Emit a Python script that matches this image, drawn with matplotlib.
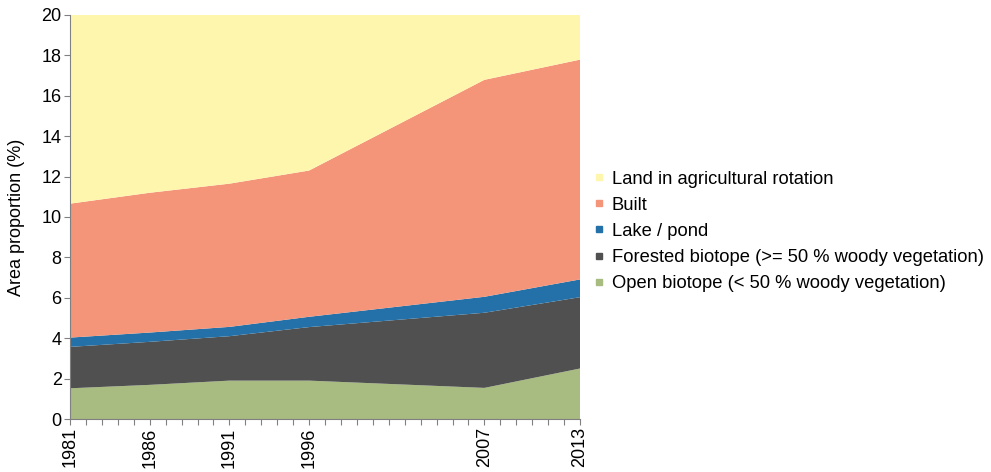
import matplotlib
matplotlib.use("Agg")
import matplotlib.pyplot as plt
from matplotlib.lines import Line2D

plt.rcParams['font.family'] = ['Liberation Sans', 'DejaVu Sans']

# land-use shares per survey year (% of area)
years = [1981, 1986, 1991, 1996, 2007, 2013]
open_biotope = [1.52, 1.69, 1.90, 1.90, 1.54, 2.50]
forested = [2.05, 2.13, 2.20, 2.65, 3.72, 3.53]
lake = [0.46, 0.46, 0.46, 0.51, 0.79, 0.88]
built = [6.63, 6.92, 7.09, 7.24, 10.74, 10.88]
agri = [9.34, 8.80, 8.35, 7.70, 3.21, 2.21]

labels = ["Open biotope (< 50 % woody vegetation)",
          "Forested biotope (>= 50 % woody vegetation)",
          "Lake / pond",
          "Built",
          "Land in agricultural rotation"]
colors = ["#A8BB81", "#505050", "#2371A8", "#F49479", "#FFF6AE"]

fig = plt.figure(figsize=(9.91, 4.72), dpi=100)
ax = fig.add_axes([70 / 991, 53 / 472, 510 / 991, 404 / 472])

ax.stackplot(years, open_biotope, forested, lake, built, agri,
             colors=colors, linewidth=0)

ax.set_xlim(1981, 2013)
ax.set_ylim(0, 20)
ax.set_yticks(range(0, 21, 2))
ax.set_xticks(range(1981, 2014))
ax.set_xticklabels([str(y) if y in years else "" for y in range(1981, 2014)],
                   rotation=90)
ax.tick_params(axis='both', labelsize=13, length=4, color='#808080',
               direction='out', pad=2)
ax.set_ylabel("Area proportion (%)", fontsize=13, labelpad=12)

for s in ['top', 'right']:
    ax.spines[s].set_visible(False)
for s in ['left', 'bottom']:
    ax.spines[s].set_color('#808080')

handles = [Line2D([], [], marker='s', linestyle='', markersize=5,
                  color=c) for c in colors[::-1]]
fig.legend(handles, labels[::-1], loc='upper left',
           bbox_to_anchor=(573 / 991, 1 - 154 / 472), frameon=False,
           fontsize=13.2, handletextpad=0.2, labelspacing=0.5,
           handlelength=1.0)

fig.savefig("out.png", dpi=100)
